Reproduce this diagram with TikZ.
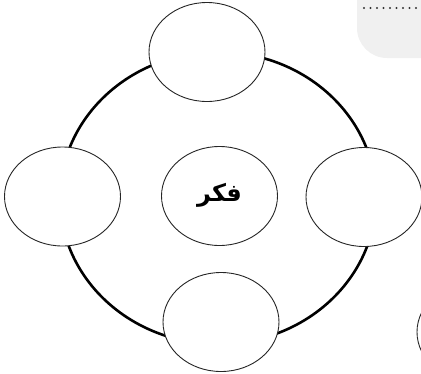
\documentclass[tikz,border=0pt]{standalone}
\usepackage{fontspec}
\newfontfamily\arabicfont[Script=Arabic]{DejaVu Sans}
\TeXXeTstate=1
\usetikzlibrary{shapes.geometric}
\begin{document}
\begin{tikzpicture}[x=1pt,y=-1pt,
  bub/.style={ellipse, draw=black!85, line width=0.9pt, fill=white, inner sep=0pt,
    minimum width=116pt, minimum height=99pt}]
\useasboundingbox (0,0) rectangle (421,373);
\begin{scope}
\clip (0,0) rectangle (421,373);
\fill[black!6, rounded corners=30pt] (357,-40) rectangle (470,58);
\draw[line width=2.4pt, line cap=round, dash pattern=on 0pt off 6.5pt, black!80] (364,8) -- (421,8);
\draw[line width=2.6pt] (218,198) ellipse [x radius=158, y radius=146];
\node[bub] (top) at (207,52) {};
\node[bub] (left) at (62.5,196.5) {};
\node[bub] (right) at (364,197) {};
\node[bub] (bottom) at (221,322) {};
\node[bub] (center) at (219.5,196) {\raisebox{7pt}{\arabicfont\bfseries\fontsize{24}{24}\selectfont\beginR فكر\endR}};
\node[bub] (extra) at (475,332) {};
\end{scope}
\end{tikzpicture}
\end{document}
